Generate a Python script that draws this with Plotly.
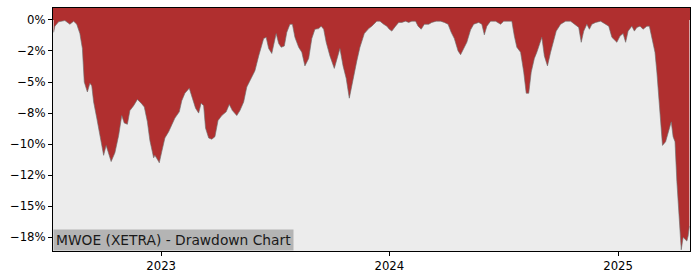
import plotly.graph_objects as go

dates = [
    "2022-07-13", "2022-07-15", "2022-07-21", "2022-07-31", "2022-08-08", "2022-08-14", "2022-08-19",
    "2022-08-24", "2022-08-28", "2022-08-31", "2022-09-05", "2022-09-09", "2022-09-12", "2022-09-15",
    "2022-09-20", "2022-09-25", "2022-10-01", "2022-10-05", "2022-10-09", "2022-10-13", "2022-10-19",
    "2022-10-25", "2022-10-30", "2022-11-03", "2022-11-08", "2022-11-12", "2022-11-18", "2022-11-24",
    "2022-11-30", "2022-12-05", "2022-12-10", "2022-12-14", "2022-12-20", "2022-12-22", "2022-12-28",
    "2022-12-29", "2023-01-02", "2023-01-07", "2023-01-13", "2023-01-18", "2023-01-23", "2023-01-30",
    "2023-02-03", "2023-02-08", "2023-02-15", "2023-02-20", "2023-02-25", "2023-03-02", "2023-03-06",
    "2023-03-10", "2023-03-13", "2023-03-18", "2023-03-23", "2023-03-28", "2023-04-02", "2023-04-08",
    "2023-04-15", "2023-04-20", "2023-04-25", "2023-05-02", "2023-05-07", "2023-05-13", "2023-05-18",
    "2023-05-23", "2023-05-27", "2023-05-31", "2023-06-06", "2023-06-09", "2023-06-14", "2023-06-18",
    "2023-06-22", "2023-06-27", "2023-07-04", "2023-07-08", "2023-07-12", "2023-07-17", "2023-07-21",
    "2023-07-26", "2023-07-30", "2023-08-03", "2023-08-09", "2023-08-14", "2023-08-19", "2023-08-25",
    "2023-08-30", "2023-09-04", "2023-09-10", "2023-09-14", "2023-09-18", "2023-09-22", "2023-09-28",
    "2023-10-05", "2023-10-10", "2023-10-14", "2023-10-19", "2023-10-24", "2023-10-29", "2023-11-04",
    "2023-11-10", "2023-11-15", "2023-11-22", "2023-11-29", "2023-12-04", "2023-12-12", "2023-12-17",
    "2023-12-23", "2023-12-28", "2024-01-01", "2024-01-05", "2024-01-11", "2024-01-16", "2024-01-21",
    "2024-01-27", "2024-02-01", "2024-02-06", "2024-02-12", "2024-02-16", "2024-02-21", "2024-02-26",
    "2024-03-04", "2024-03-09", "2024-03-16", "2024-03-23", "2024-03-29", "2024-04-04", "2024-04-09",
    "2024-04-14", "2024-04-20", "2024-04-24", "2024-04-29", "2024-05-04", "2024-05-10", "2024-05-15",
    "2024-05-23", "2024-05-28", "2024-06-01", "2024-06-05", "2024-06-11", "2024-06-19", "2024-06-27",
    "2024-07-02", "2024-07-10", "2024-07-15", "2024-07-19", "2024-07-23", "2024-07-29", "2024-08-03",
    "2024-08-07", "2024-08-11", "2024-08-15", "2024-08-20", "2024-08-24", "2024-08-30", "2024-09-01",
    "2024-09-05", "2024-09-10", "2024-09-15", "2024-09-19", "2024-09-24", "2024-10-01", "2024-10-09",
    "2024-10-17", "2024-10-25", "2024-10-30", "2024-11-03", "2024-11-07", "2024-11-12", "2024-11-16",
    "2024-11-20", "2024-11-26", "2024-12-04", "2024-12-12", "2024-12-17", "2024-12-22", "2024-12-30",
    "2025-01-04", "2025-01-09", "2025-01-13", "2025-01-17", "2025-01-23", "2025-01-27", "2025-01-31",
    "2025-02-05", "2025-02-10", "2025-02-16", "2025-02-20", "2025-02-25", "2025-03-01", "2025-03-04",
    "2025-03-08", "2025-03-11", "2025-03-13", "2025-03-18", "2025-03-22", "2025-03-27", "2025-03-30",
    "2025-04-02", "2025-04-05", "2025-04-09", "2025-04-12", "2025-04-15", "2025-04-21", "2025-04-23",
    "2025-04-25",
]

drawdown = [
    -1.0, -0.5, -0.15, -0.05, -0.35, -0.1, -0.35,
    -1.1, -2.3, -5.0, -5.8, -5.1, -5.3, -6.6,
    -7.9, -9.3, -10.9, -10.1, -10.7, -11.4, -10.7,
    -9.3, -7.7, -8.3, -8.4, -7.3, -6.9, -6.4,
    -6.7, -7.0, -8.2, -9.7, -11.1, -10.9, -11.4,
    -11.5, -10.6, -9.5, -9.0, -8.5, -7.9, -7.4,
    -6.5, -5.9, -5.5, -6.3, -7.1, -7.5, -6.7,
    -6.9, -8.7, -9.5, -9.6, -9.4, -8.1, -7.7,
    -7.4, -6.8, -7.3, -7.7, -7.3, -6.6, -5.4,
    -4.9, -4.5, -4.1, -2.9, -2.4, -1.5, -1.4,
    -2.3, -2.7, -1.1, -1.9, -2.2, -2.1, -1.0,
    -0.35, -0.35, -1.4, -2.2, -2.6, -3.7, -3.1,
    -1.5, -0.75, -0.7, -0.5, -0.75, -1.8, -2.9,
    -3.9, -2.9, -2.3, -3.7, -4.7, -6.3, -4.7,
    -3.3, -2.2, -1.1, -0.7, -0.5, -0.1, -0.1,
    -0.35, -0.5, -0.75, -0.9, -0.5, -0.2, -0.2,
    -0.1, -0.2, -0.1, -0.1, -0.5, -0.75, -0.35,
    -0.35, -0.2, -0.1, -0.1, -0.2, -0.35, -1.0,
    -1.5, -2.5, -2.8, -2.3, -1.8, -0.8, -0.35,
    -0.2, -0.35, -1.2, -0.5, -0.1, -0.1, -0.35,
    -0.1, -0.1, -0.1, -1.3, -2.2, -2.6, -4.2,
    -5.9, -5.9, -4.2, -3.1, -2.6, -1.8, -1.4,
    -2.9, -3.7, -2.6, -1.8, -0.9, -0.35, -0.1,
    -0.1, -0.45, -0.6, -1.8, -0.9, -0.35, -0.75,
    -0.35, -0.2, -0.1, -0.35, -0.5, -1.4, -1.8,
    -1.3, -1.1, -1.8, -0.9, -0.5, -0.9, -0.6,
    -0.5, -0.75, -0.5, -0.5, -1.8, -2.6, -4.2,
    -6.9, -8.5, -10.1, -9.8, -9.0, -8.2, -9.4,
    -9.8, -13.0, -16.2, -18.5, -17.5, -17.8, -17.4,
    -16.6,
]

tick_vals = [0, -2.5, -5, -7.5, -10, -12.5, -15, -17.5]
tick_text = ["0%", "\u22122%", "\u22125%", "\u22128%", "\u221210%", "\u221212%", "\u221215%", "\u221218%"]
x_tick_vals = ["2023-01-01", "2024-01-01", "2025-01-01"]
x_tick_text = ["2023", "2024", "2025"]
x_range = ["2022-07-12", "2025-04-26"]
y_range = [-18.6, 0.96]
title_text = "MWOE (XETRA) - Drawdown Chart"

RED = "#b02f2f"
GREY_BG = "#ececec"

fig = go.Figure()
fig.add_trace(go.Scatter(
    x=dates, y=drawdown, mode="lines", fill="tozeroy",
    fillcolor=RED, line=dict(color="rgba(110,110,110,0.8)", width=0.8),
    hoverinfo="skip", showlegend=False,
))

fig.add_shape(type="rect", xref="paper", yref="y", x0=0, x1=1, y0=0, y1=y_range[1],
              fillcolor=RED, line=dict(width=0), layer="below")

fig.add_annotation(
    xref="paper", yref="paper", x=0, y=0, xanchor="left", yanchor="bottom",
    text=title_text, showarrow=False, bgcolor="#b4b4b4",
    font=dict(family="DejaVu Sans", size=13.8, color="#1a1a1a"),
    borderpad=2,
)

fig.update_layout(
    width=700, height=280,
    margin=dict(l=53, r=10, t=7, b=28),
    paper_bgcolor="white", plot_bgcolor=GREY_BG,
    font=dict(family="DejaVu Sans", size=11.7, color="black"),
    showlegend=False,
)
fig.update_xaxes(
    range=x_range, tickvals=x_tick_vals, ticktext=x_tick_text,
    showgrid=False, zeroline=False, showline=True, mirror=True,
    linecolor="black", linewidth=1, ticks="outside", ticklen=4, tickcolor="black",
)
fig.update_yaxes(
    range=y_range, tickvals=tick_vals, ticktext=tick_text,
    showgrid=False, zeroline=False, showline=True, mirror=True,
    linecolor="black", linewidth=1, ticks="outside", ticklen=4, tickcolor="black",
)

fig.write_html("out.html")
